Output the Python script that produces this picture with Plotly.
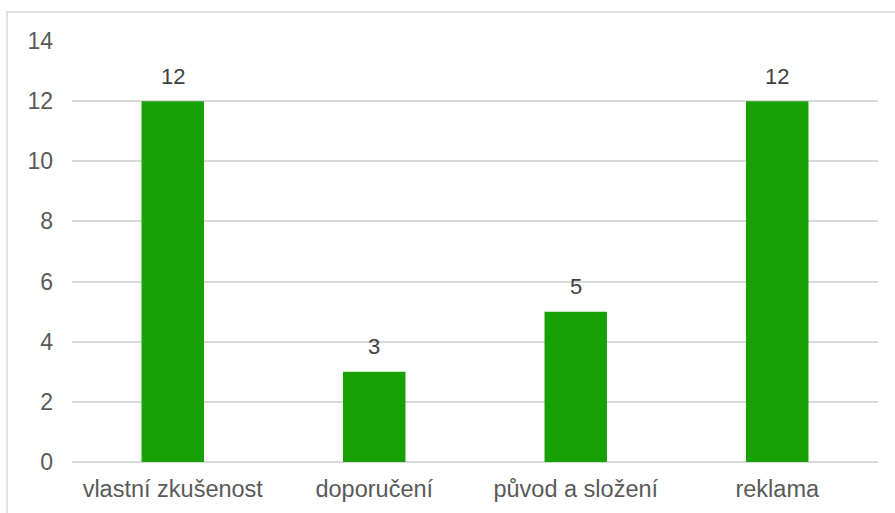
import plotly.graph_objects as go

categories = ["vlastní zkušenost", "doporučení", "původ a složení", "reklama"]
values = [12, 3, 5, 12]
y_ticks = [0, 2, 4, 6, 8, 10, 12, 14]

W, H = 895, 513
L, R, T, B = 72, 17, 41, 51
pw = W - L - R
ph = H - T - B
FONT = "Liberation Sans, Arial"

fig = go.Figure(go.Bar(
    x=categories, y=values,
    marker=dict(color="#17A104", line=dict(width=0)),
    width=0.31,
    cliponaxis=False,
))

for c, v in zip(categories, values):
    fig.add_annotation(x=c, y=v, text=str(v), showarrow=False,
                       yanchor="middle", yshift=25,
                       font=dict(family=FONT, size=22, color="#404040"))

fig.update_layout(
    width=W, height=H,
    margin=dict(l=L, r=R, t=T, b=B, pad=0),
    paper_bgcolor="white", plot_bgcolor="white",
    font=dict(family=FONT, size=22, color="#595959"),
    showlegend=False,
    xaxis=dict(showgrid=False, showline=False, ticks="", ticklabelstandoff=10,
               tickfont=dict(family=FONT, size=23.5, color="#595959")),
    yaxis=dict(range=[0, 14], tickvals=y_ticks, showgrid=True, gridcolor="#d9d9d9", gridwidth=1.5,
               zeroline=True, zerolinecolor="#d9d9d9", zerolinewidth=1.5,
               showline=False, ticks="", ticklabelstandoff=18,
               tickfont=dict(family=FONT, size=23, color="#595959")),
)

# outer chart border (partially off-canvas, as in the reference)
fig.add_shape(type="rect", xref="paper", yref="paper",
              x0=(7 - L) / pw, x1=1.2, y0=-0.5, y1=(H - B - 12) / ph,
              line=dict(color="#d9d9d9", width=1.5), fillcolor="rgba(0,0,0,0)", layer="below")

fig.write_html("out.html")
